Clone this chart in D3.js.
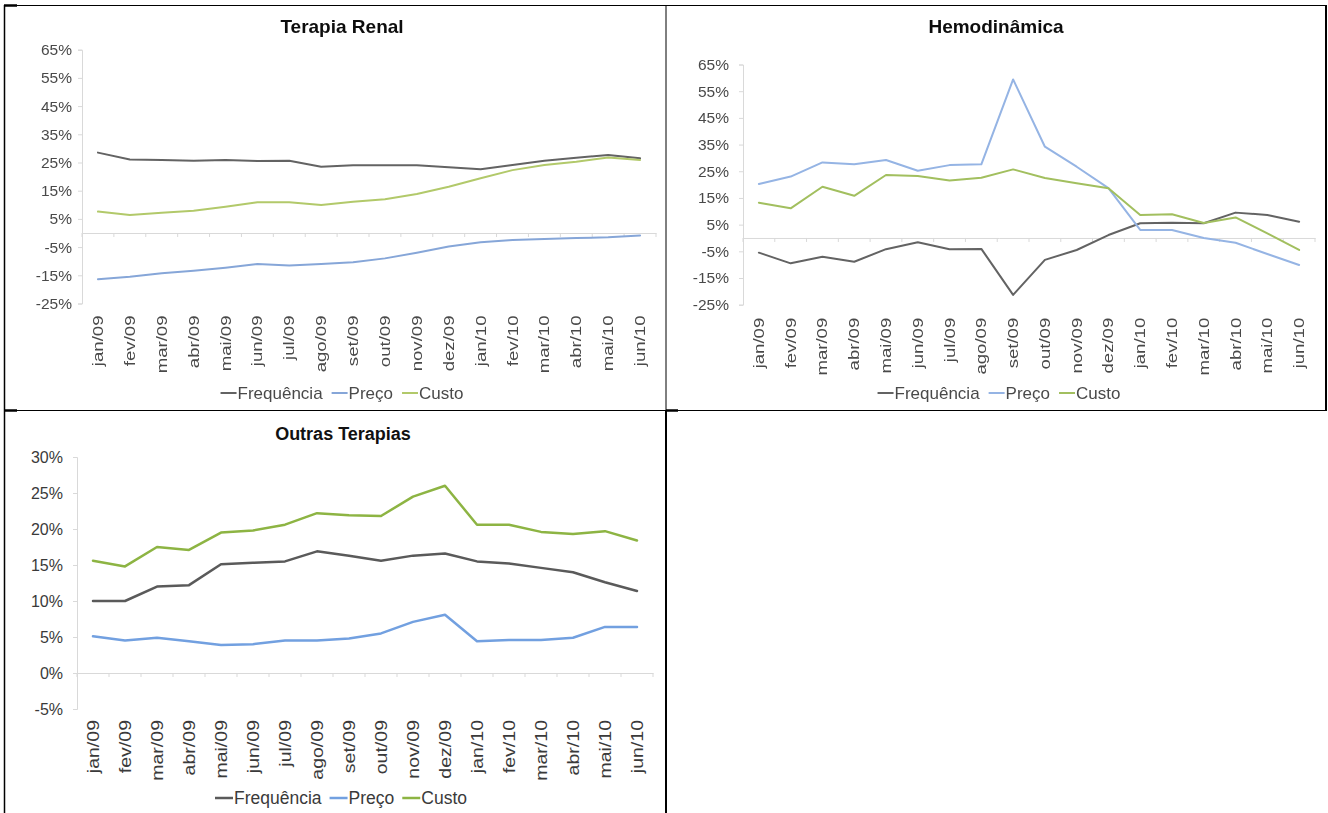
<!DOCTYPE html>
<html>
<head>
<meta charset="utf-8">
<script src="https://cdn.jsdelivr.net/npm/d3@7"></script>
<style>
  body { margin: 0; background: #fff; }
  svg { display: block; }
  text { font-family: "Liberation Sans", Arial, sans-serif; }
</style>
</head>
<body>
<svg id="page" width="1328" height="813"></svg>
<script>
// Months on the category axis
const months = ["jan/09","fev/09","mar/09","abr/09","mai/09","jun/09","jul/09","ago/09",
  "set/09","out/09","nov/09","dez/09","jan/10","fev/10","mar/10","abr/10","mai/10","jun/10"];

const seriesNames = ["Frequência", "Preço", "Custo"];

// Terapia Renal (% variation)
const renalFrequencia = [28.5, 26.1, 25.9, 25.6, 25.9, 25.5, 25.6, 23.5, 24.0, 24.0, 24.0, 23.3, 22.6, 24.1, 25.6, 26.7, 27.7, 26.5];
const renalPreco      = [-16.4, -15.5, -14.3, -13.4, -12.3, -11.0, -11.5, -11.0, -10.4, -9.0, -7.0, -4.8, -3.3, -2.5, -2.1, -1.8, -1.5, -0.9];
const renalCusto      = [7.6, 6.4, 7.2, 7.9, 9.3, 10.9, 10.9, 9.9, 11.1, 12.0, 13.8, 16.4, 19.4, 22.3, 24.1, 25.3, 26.8, 25.9];
const renalTicks = [65, 55, 45, 35, 25, 15, 5, -5, -15, -25];

// Hemodinâmica (% variation)
const hemoFrequencia = [-5.5, -9.5, -7.0, -8.9, -4.2, -1.6, -4.2, -4.1, -21.3, -8.2, -4.5, 1.1, 5.5, 5.7, 5.5, 9.5, 8.6, 6.1];
const hemoPreco      = [20.2, 23.0, 28.3, 27.6, 29.2, 25.2, 27.3, 27.6, 59.4, 34.2, 26.7, 18.7, 3.0, 3.0, 0.0, -1.8, -6.0, -10.1];
const hemoCusto      = [13.2, 11.1, 19.2, 15.8, 23.6, 23.2, 21.5, 22.6, 25.7, 22.5, 20.5, 18.6, 8.6, 8.9, 5.6, 7.7, 1.7, -4.5];
const hemoTicks = [65, 55, 45, 35, 25, 15, 5, -5, -15, -25];

// Outras Terapias (% variation)
const outrasFrequencia = [10.0, 10.0, 12.0, 12.2, 15.1, 15.3, 15.5, 16.9, 16.3, 15.6, 16.3, 16.6, 15.5, 15.2, 14.6, 14.0, 12.6, 11.4];
const outrasPreco      = [5.1, 4.5, 4.9, 4.4, 3.9, 4.0, 4.5, 4.5, 4.8, 5.5, 7.1, 8.1, 4.4, 4.6, 4.6, 4.9, 6.4, 6.4];
const outrasCusto      = [15.6, 14.8, 17.5, 17.1, 19.5, 19.8, 20.6, 22.2, 21.9, 21.8, 24.5, 26.0, 20.6, 20.6, 19.6, 19.3, 19.7, 18.4];
const outrasTicks = [30, 25, 20, 15, 10, 5, 0, -5];

const svg = d3.select("#page");

// Soft filter for the two pasted top charts
svg.append("defs").append("filter").attr("id", "soft")
  .attr("x", "-5%").attr("y", "-5%").attr("width", "110%").attr("height", "110%")
  .append("feGaussianBlur").attr("stdDeviation", 0.45);

// Table-cell frame lines around the charts
const frame = svg.append("g").attr("stroke", "#000").attr("fill", "none");
frame.append("line").attr("x1", 4).attr("y1", 5.5).attr("x2", 1327).attr("y2", 5.5).attr("stroke-width", 1);
frame.append("line").attr("x1", 4).attr("y1", 410.5).attr("x2", 1327).attr("y2", 410.5).attr("stroke-width", 1);
frame.append("line").attr("x1", 4.5).attr("y1", 5).attr("x2", 4.5).attr("y2", 813).attr("stroke-width", 1.5);
frame.append("line").attr("x1", 666).attr("y1", 5).attr("x2", 666).attr("y2", 411).attr("stroke-width", 1);
frame.append("line").attr("x1", 666).attr("y1", 411).attr("x2", 666).attr("y2", 813).attr("stroke-width", 2);
frame.append("line").attr("x1", 1326).attr("y1", 5).attr("x2", 1326).attr("y2", 411).attr("stroke-width", 2);
frame.append("line").attr("x1", 4).attr("y1", 5.5).attr("x2", 17).attr("y2", 5.5).attr("stroke-width", 2.5);
frame.append("line").attr("x1", 4).attr("y1", 410.5).attr("x2", 17).attr("y2", 410.5).attr("stroke-width", 2.5);
frame.append("line").attr("x1", 666).attr("y1", 410.5).attr("x2", 678).attr("y2", 410.5).attr("stroke-width", 2.5);

function drawChart(cfg) {
  const g = svg.append("g");
  if (cfg.soft) g.attr("filter", "url(#soft)");
  const x = d3.scaleBand().domain(months).range([cfg.left, cfg.right]);
  const y = d3.scaleLinear().domain([d3.min(cfg.ticks), d3.max(cfg.ticks)]).range([cfg.bottom, cfg.top]);
  const cx = m => x(m) + x.bandwidth() / 2;

  // title
  g.append("text").attr("x", cfg.titleX).attr("y", cfg.titleY)
    .attr("text-anchor", "middle").attr("font-weight", "bold")
    .attr("font-size", cfg.titleSize).attr("fill", "#111").text(cfg.title);

  // value axis
  const yAxis = d3.axisLeft(y).tickValues(cfg.ticks).tickSize(4).tickPadding(cfg.yPad)
    .tickFormat(d => d + "%");
  const ya = g.append("g").attr("transform", `translate(${cfg.left},0)`).call(yAxis);
  ya.select(".domain").attr("stroke", cfg.axisColor);
  ya.selectAll(".tick line").attr("stroke", cfg.axisColor);
  ya.selectAll(".tick text").attr("font-size", cfg.yFont).attr("fill", cfg.textColor)
    .attr("font-family", "Liberation Sans, Arial, sans-serif");

  // category axis sitting on zero
  const xAxis = d3.axisBottom(x).tickSize(0).tickFormat("");
  const xa = g.append("g").attr("transform", `translate(0,${y(0)})`).call(xAxis);
  xa.select(".domain").attr("stroke", cfg.axisColor);
  // category boundary ticks
  g.append("g").selectAll("line").data(months.concat(["end"])).join("line")
    .attr("x1", (m, i) => cfg.left + i * x.step()).attr("x2", (m, i) => cfg.left + i * x.step())
    .attr("y1", y(0)).attr("y2", y(0) + 4).attr("stroke", cfg.axisColor);

  // category labels below the plot, rotated
  g.append("g").selectAll("text").data(months).join("text")
    .attr("transform", m => `translate(${cx(m) + cfg.xLabelShift},${cfg.bottom + cfg.xLabelGap}) rotate(-90) scale(${cfg.xStretch},1)`)
    .attr("text-anchor", "end").attr("font-size", cfg.xFont).attr("fill", cfg.textColor)
    .text(m => m);

  // series lines
  const line = d3.line().x((d, i) => cx(months[i])).y(d => y(d));
  cfg.series.forEach((s, k) => {
    g.append("path").datum(s).attr("d", line).attr("fill", "none")
      .attr("stroke", cfg.colors[k]).attr("stroke-width", cfg.lineWidth)
      .attr("stroke-linejoin", "round").attr("stroke-linecap", "round");
  });

  // legend
  const lg = g.append("g");
  let pos = 0;
  const items = [];
  seriesNames.forEach((name, k) => {
    const it = lg.append("g");
    it.append("line").attr("x1", 0).attr("x2", cfg.legendLine).attr("y1", 0).attr("y2", 0)
      .attr("stroke", cfg.colors[k]).attr("stroke-width", cfg.lineWidth);
    const t = it.append("text").attr("x", cfg.legendLine + 1).attr("y", cfg.legendFont * 0.36)
      .attr("font-size", cfg.legendFont).attr("fill", cfg.textColor).text(name);
    const w = cfg.legendLine + 1 + t.node().getComputedTextLength();
    items.push({ it, pos });
    pos += w + cfg.legendGap;
  });
  const total = pos - cfg.legendGap;
  items.forEach(d => d.it.attr("transform", `translate(${cfg.legendCX - total / 2 + d.pos},${cfg.legendY})`));
}

drawChart({
  title: "Terapia Renal", titleX: 342, titleY: 33, titleSize: 19, soft: true,
  left: 82, right: 656, top: 49.7, bottom: 303.5, ticks: renalTicks,
  series: [renalFrequencia, renalPreco, renalCusto],
  colors: ["#636363", "#86a6d8", "#b2c96a"], lineWidth: 2,
  axisColor: "#d9d9d9", textColor: "#4a4a4a",
  yFont: 15.5, yPad: 6, xFont: 15.5, xStretch: 1.2, xLabelGap: 12, xLabelShift: 5,
  legendCX: 342, legendY: 393, legendFont: 17, legendLine: 16, legendGap: 9
});

drawChart({
  title: "Hemodinâmica", titleX: 996, titleY: 33, titleSize: 19, soft: true,
  left: 743, right: 1315, top: 64.5, bottom: 304.7, ticks: hemoTicks,
  series: [hemoFrequencia, hemoPreco, hemoCusto],
  colors: ["#636363", "#95b4e4", "#a2bf5e"], lineWidth: 2,
  axisColor: "#d9d9d9", textColor: "#4a4a4a",
  yFont: 15.5, yPad: 10, xFont: 15.5, xStretch: 1.2, xLabelGap: 13, xLabelShift: 5,
  legendCX: 999, legendY: 393, legendFont: 17, legendLine: 16, legendGap: 9
});

drawChart({
  title: "Outras Terapias", titleX: 343, titleY: 440, titleSize: 18, soft: false,
  left: 77, right: 653, top: 457, bottom: 709, ticks: outrasTicks,
  series: [outrasFrequencia, outrasPreco, outrasCusto],
  colors: ["#5a5a5a", "#72a0e0", "#8db443"], lineWidth: 2.5,
  axisColor: "#d9d9d9", textColor: "#3a3a3a",
  yFont: 16, yPad: 10, xFont: 17, xStretch: 1.15, xLabelGap: 11, xLabelShift: 6,
  legendCX: 341, legendY: 798, legendFont: 17.5, legendLine: 18, legendGap: 8
});
</script>
</body>
</html>
